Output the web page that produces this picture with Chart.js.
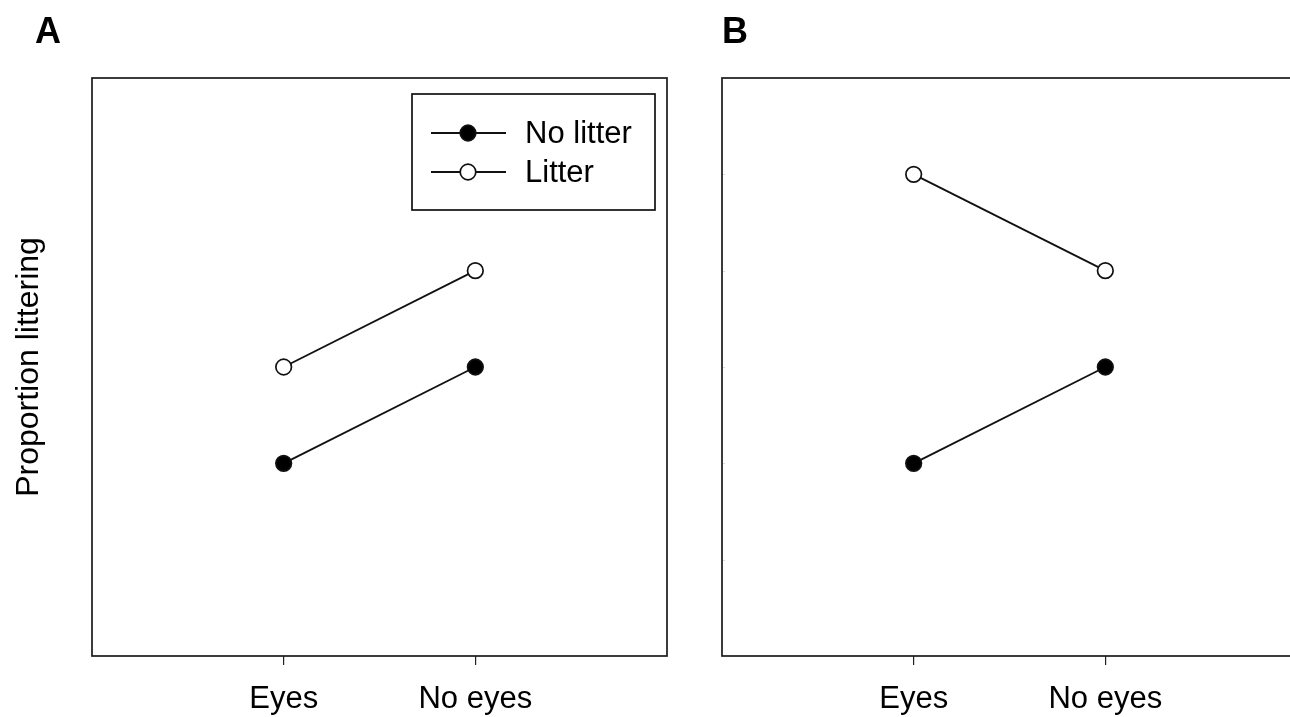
<!DOCTYPE html>
<html>
<head>
<meta charset="utf-8">
<script src="https://cdn.jsdelivr.net/npm/chart.js@4.4.0/dist/chart.umd.min.js"></script>
<style>
  html, body { margin: 0; padding: 0; background: #fff; overflow: hidden; }
  #wrap { position: relative; width: 1290px; height: 717px; overflow: hidden; background: #fff; }
  .panel { position: absolute; top: 0; width: 680px; height: 717px; }
  #panelA { left: 0; }
  #panelB { left: 630px; }
</style>
</head>
<body>
<div id="wrap">
  <div class="panel" id="panelA"><canvas id="chartA" width="680" height="717"></canvas></div>
  <div class="panel" id="panelB"><canvas id="chartB" width="680" height="717"></canvas></div>
</div>
<script>
// Condition categories along the x axis
const categories = ['Eyes', 'No eyes'];
// Series names
const seriesNames = ['No litter', 'Litter'];
// Proportion littering, panel A
const panelA_noLitter = [0.2, 0.3];
const panelA_litter = [0.3, 0.4];
// Proportion littering, panel B
const panelB_noLitter = [0.2, 0.3];
const panelB_litter = [0.5, 0.4];
// Y axis tick values
const yTicks = [0, 0.1, 0.2, 0.3, 0.4, 0.5, 0.6];

const FONT = "'Liberation Sans', Arial, Helvetica, sans-serif";
const INK = '#111';

function toPoints(values) {
  return values.map((v, i) => ({ x: i + 1, y: v }));
}

// Frame, panel letter, optional legend and faint inner y ticks
const panelDecor = {
  id: 'panelDecor',
  afterDraw(chart, args, opts) {
    const ctx = chart.ctx;
    const a = chart.chartArea;
    ctx.save();

    if (opts.innerTicks) {
      const ys = chart.scales.y;
      ctx.strokeStyle = '#dadada';
      ctx.lineWidth = 1;
      ys.ticks.forEach(t => {
        if (t.value <= ys.min || t.value >= ys.max) return;
        const py = Math.round(ys.getPixelForValue(t.value)) + 0.5;
        ctx.beginPath();
        ctx.moveTo(a.left, py);
        ctx.lineTo(a.left + 3, py);
        ctx.stroke();
      });
    }

    ctx.strokeStyle = '#1a1a1a';
    ctx.lineWidth = 1.7;
    ctx.strokeRect(a.left, a.top, a.right - a.left, a.bottom - a.top);

    ctx.fillStyle = '#000';
    ctx.font = 'bold 36px ' + FONT;
    ctx.textAlign = 'left';
    ctx.textBaseline = 'alphabetic';
    ctx.fillText(opts.letter, opts.letterX, 43);

    if (opts.legend) {
      const bx = a.right - 255, by = a.top + 16, bw = 243, bh = 116;
      ctx.fillStyle = '#fff';
      ctx.fillRect(bx, by, bw, bh);
      ctx.strokeStyle = '#111';
      ctx.lineWidth = 1.7;
      ctx.strokeRect(bx, by, bw, bh);
      ctx.font = '31px ' + FONT;
      ctx.textBaseline = 'middle';
      chart.data.datasets.forEach((ds, i) => {
        const ry = by + 39 + i * 39;
        ctx.strokeStyle = ds.borderColor;
        ctx.lineWidth = ds.borderWidth;
        ctx.beginPath();
        ctx.moveTo(bx + 19, ry);
        ctx.lineTo(bx + 94, ry);
        ctx.stroke();
        ctx.beginPath();
        ctx.arc(bx + 56, ry, ds.pointRadius, 0, Math.PI * 2);
        ctx.fillStyle = ds.pointBackgroundColor;
        ctx.fill();
        ctx.lineWidth = ds.pointBorderWidth;
        ctx.strokeStyle = ds.pointBorderColor;
        ctx.stroke();
        ctx.fillStyle = '#000';
        ctx.fillText(ds.label, bx + 113, ry + 1);
      });
    }
    ctx.restore();
  }
};

function makeDataset(label, values, fill) {
  return {
    label: label,
    data: toPoints(values),
    borderColor: INK,
    borderWidth: 1.8,
    pointRadius: 7.8,
    pointHoverRadius: 7.8,
    pointBorderWidth: 1.7,
    pointBorderColor: INK,
    pointBackgroundColor: fill,
    fill: false,
    tension: 0
  };
}

function makeChart(canvasId, noLitter, litter, decor, showTitle) {
  return new Chart(document.getElementById(canvasId), {
    type: 'line',
    data: {
      datasets: [
        makeDataset(seriesNames[0], noLitter, '#000'),
        makeDataset(seriesNames[1], litter, '#fff')
      ]
    },
    options: {
      responsive: false,
      animation: false,
      devicePixelRatio: 1,
      layout: { padding: { left: 0, right: 13, top: 78, bottom: 0 } },
      plugins: {
        legend: { display: false },
        tooltip: { enabled: false },
        panelDecor: decor
      },
      scales: {
        x: {
          type: 'linear',
          min: 0,
          max: 3,
          afterBuildTicks: s => { s.ticks = categories.map((c, i) => ({ value: i + 1 })); },
          afterFit: s => { s.height = 61; },
          grid: { drawOnChartArea: false, drawTicks: true, tickLength: 9, color: '#222', lineWidth: 1.2 },
          border: { display: false },
          ticks: {
            autoSkip: false,
            maxRotation: 0,
            padding: 16,
            color: '#000',
            font: { size: 31, family: FONT },
            callback: v => categories[v - 1] ?? ''
          }
        },
        y: {
          type: 'linear',
          min: 0,
          max: 0.6,
          afterBuildTicks: s => { s.ticks = yTicks.map(v => ({ value: v })); },
          afterFit: s => { s.width = 92; },
          grid: { display: false },
          border: { display: false },
          ticks: { display: false },
          title: {
            display: showTitle,
            text: 'Proportion littering',
            color: '#000',
            font: { size: 32, family: FONT },
            padding: { top: 10, bottom: 0 }
          }
        }
      }
    },
    plugins: [panelDecor]
  });
}

makeChart('chartA', panelA_noLitter, panelA_litter,
  { letter: 'A', letterX: 35, legend: true, innerTicks: false }, true);
makeChart('chartB', panelB_noLitter, panelB_litter,
  { letter: 'B', letterX: 92, legend: false, innerTicks: true }, false);
</script>
</body>
</html>
